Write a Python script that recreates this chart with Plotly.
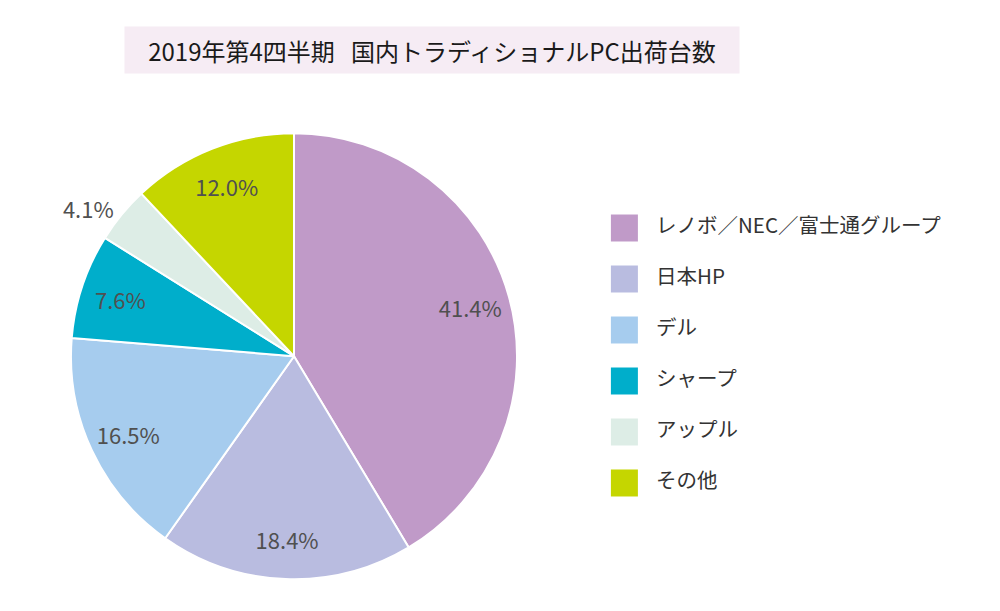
import plotly.graph_objects as go

# data
makers = ['レノボ／NEC／富士通グループ', '日本HP', 'デル', 'シャープ', 'アップル', 'その他']
shares = [41.4, 18.4, 16.5, 7.6, 4.1, 12.0]
colors = ['#C09AC8', '#B9BCE0', '#A6CCEE', '#00AECB', '#DDEDE6', '#C5D600']
label_pos = ['inside', 'inside', 'inside', 'inside', 'outside', 'inside']

title_text = '2019年第4四半期&nbsp;&nbsp;&nbsp;国内トラディショナルPC出荷台数'

FONT = 'Noto Sans CJK JP'
# the page body has an 8px margin, so shift everything up/left by that much
DX = 8 / 1000
DY = 8 / 611

pie_dom = dict(x=[0.07 - DX, 0.518 - DX], y=[0.052 + DY, 0.782 + DY])

fig = go.Figure()

# the coloured pie (no text)
fig.add_trace(go.Pie(
    labels=makers, values=shares,
    textinfo='none', sort=False, direction='clockwise', rotation=0,
    marker=dict(colors=colors, line=dict(color='white', width=2)),
    hoverinfo='label+percent', showlegend=False,
    domain=pie_dom,
))

# transparent ring on top, only there so the labels sit out towards the rim
fig.add_trace(go.Pie(
    labels=makers, values=shares,
    text=[f'{v:.1f}%' for v in shares],
    textinfo='text',
    textposition=label_pos,
    insidetextorientation='horizontal',
    hole=0.64,
    sort=False, direction='clockwise', rotation=0,
    marker=dict(colors=['rgba(0,0,0,0)'] * len(shares), line=dict(width=0)),
    textfont=dict(family=FONT, size=22, color='#505050'),
    hoverinfo='skip', showlegend=False,
    domain=pie_dom,
))

# legend drawn as a column of square markers with the maker names
idx = list(range(len(makers)))
fig.add_trace(go.Scatter(
    x=[0.041] * len(makers),
    y=idx,
    mode='markers+text',
    marker=dict(symbol='square', size=27, color=colors),
    text=['&nbsp;&nbsp;&nbsp;' + m for m in makers],
    textposition='middle right',
    textfont=dict(family=FONT, size=20.5, color='#333333'),
    hoverinfo='skip',
    showlegend=False,
    xaxis='x', yaxis='y',
))

fig.update_layout(
    width=1000, height=611,
    margin=dict(l=0, r=0, t=0, b=0),
    paper_bgcolor='white',
    plot_bgcolor='rgba(0,0,0,0)',
    xaxis=dict(domain=[0.6, 1.0], range=[0, 1], visible=False, fixedrange=True),
    yaxis=dict(domain=[0, 1], range=[7.667, -4.314], visible=False, fixedrange=True),
    annotations=[dict(
        text=title_text,
        x=0.432 - DX, y=1 - 50 / 611 + DY, xref='paper', yref='paper',
        xanchor='center', yanchor='middle',
        showarrow=False,
        width=612, height=44,
        bgcolor='#F6ECF4',
        font=dict(family=FONT, size=24, color='#1a1a1a'),
    )],
)

fig.write_html('out.html')
